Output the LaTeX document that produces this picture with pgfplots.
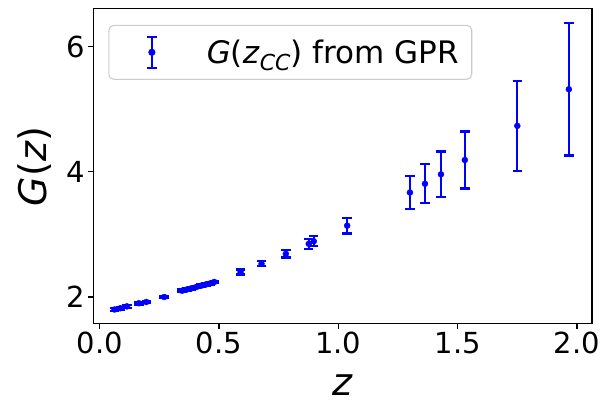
\documentclass[border=0pt]{standalone}
\usepackage{pgfplots}
\pgfplotsset{compat=1.18}
\usepackage{fontspec}
\setmainfont{DejaVu Sans}
\begin{document}
\begin{tikzpicture}
\begin{axis}[
  at={(0,0)}, anchor=south west,
  scale only axis, width=498.7pt, height=315pt,
  xmin=-0.027, xmax=2.063, ymin=1.573, ymax=6.608,
  xtick={0,0.5,1,1.5,2}, ytick={2,4,6},
  xtick pos=lower, ytick pos=left,
  tick align=outside, major tick length=5pt,
  axis line style={line width=1.1pt, black},
  every tick/.style={line width=1.1pt, black},
  /pgf/number format/assume math mode=true,
  xticklabel style={/pgf/number format/.cd, fixed, fixed zerofill, precision=1},
  tick label style={font=\fontsize{29}{34}\selectfont},
  xlabel={\textit{z}}, ylabel={\textit{G}(\textit{z})},
  label style={font=\fontsize{38}{44}\selectfont, inner sep=0pt},
  xlabel style={at={(axis description cs:0.5,0)}, anchor=base, yshift=-71.5pt},
  ylabel style={at={(axis description cs:-0.118,0.5)}, rotate=0, anchor=center},
  legend style={at={(axis description cs:0.0301,0.949)}, anchor=north west,
    draw=black!20, line width=1.1pt, rounded corners=5pt, fill=white,
    inner sep=0pt, font=\fontsize{31}{36}\selectfont, nodes={inner sep=0pt}},
  legend cell align=left,
  legend image code/.code={%
    \path[draw=none, fill=none] (0pt,-27pt) rectangle (98pt,27pt);
    \draw[blue, line width=2.2pt, solid, sharp corners] (43pt,-15.5pt) -- (43pt,15.5pt)
      (38.3pt,-15.5pt) -- (47.7pt,-15.5pt) (38.3pt,15.5pt) -- (47.7pt,15.5pt);
    \fill[blue] (43pt,0pt) circle (3pt);},
]
\addplot[blue, only marks, mark=*, mark size=3pt,
  error bars/.cd, y dir=both, y explicit,
  error bar style={line width=2.2pt},
  error mark options={rotate=90, mark size=4.7pt, line width=2.2pt}]
coordinates {
(0.062,1.80) +- (0,0.02)
(0.086,1.82) +- (0,0.02)
(0.114,1.85) +- (0,0.02)
(0.164,1.90) +- (0,0.02)
(0.195,1.92) +- (0,0.02)
(0.27,2.00) +- (0,0.02)
(0.345,2.10) +- (0,0.02)
(0.365,2.12) +- (0,0.02)
(0.385,2.14) +- (0,0.02)
(0.405,2.16) +- (0,0.02)
(0.425,2.18) +- (0,0.02)
(0.445,2.20) +- (0,0.02)
(0.465,2.22) +- (0,0.02)
(0.48,2.24) +- (0,0.02)
(0.59,2.40) +- (0,0.04)
(0.678,2.53) +- (0,0.04)
(0.78,2.69) +- (0,0.06)
(0.876,2.85) +- (0,0.08)
(0.897,2.89) +- (0,0.08)
(1.037,3.14) +- (0,0.125)
(1.30,3.67) +- (0,0.27)
(1.363,3.81) +- (0,0.31)
(1.43,3.96) +- (0,0.365)
(1.53,4.19) +- (0,0.455)
(1.75,4.735) +- (0,0.72)
(1.966,5.32) +- (0,1.06)
};
\addlegendentry{\textit{G}(\textit{z}\raisebox{-0.22em}{\fontsize{22}{22}\selectfont\textit{CC}}) from GPR\hspace*{13pt}}
\end{axis}
\pgfresetboundingbox
\path[use as bounding box] (-93.3pt,-77.3pt) rectangle (517.7pt,323.7pt);
\end{tikzpicture}
\end{document}
